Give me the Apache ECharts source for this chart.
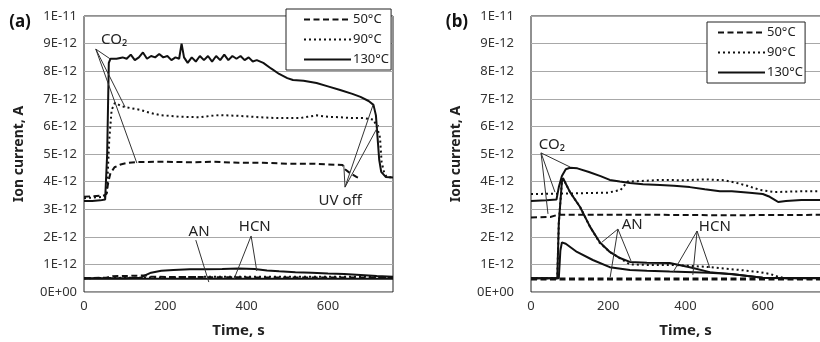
<!DOCTYPE html>
<html>
<head>
<meta charset="utf-8">
<script src="https://cdn.jsdelivr.net/npm/echarts@6/dist/echarts.min.js"></script>
<style>
  html, body { margin: 0; padding: 0; background: #fff; }
  #chart { width: 820px; height: 342px; }
</style>
</head>
<body>
<div id="chart"></div>
<script>
// values in units of 1E-12 A, time in s
var tempNames = ['50°C', '90°C', '130°C'];
var yTicks = [0, 1, 2, 3, 4, 5, 6, 7, 8, 9, 10];

// panel (a) CO2
var aCo2_50 = [[0,3.45],[50,3.5],[55,3.55],[60,4.0],[65,4.3],[75,4.52],[90,4.62],[104,4.67],[130,4.71],[200,4.72],[260,4.7],[320,4.72],[380,4.68],[440,4.68],[500,4.65],[560,4.65],[600,4.62],[636,4.6],[642,4.45],[655,4.3],[670,4.17],[680,4.1]];
var aCo2_90 = [[0,3.4],[50,3.45],[56,3.5],[62,5.5],[68,6.6],[76,6.85],[90,6.75],[101,6.7],[138,6.6],[160,6.5],[187,6.41],[236,6.35],[285,6.33],[310,6.38],[334,6.41],[383,6.38],[433,6.33],[474,6.3],[531,6.3],[550,6.35],[572,6.4],[600,6.35],[630,6.33],[660,6.3],[686,6.3],[712,6.25],[720,6.0],[728,5.6],[732,4.7],[738,4.35],[744,4.17],[760,4.15]];
var aCo2_130 = [[0,3.3],[20,3.3],[40,3.32],[52,3.35],[57,5.0],[61,8.3],[65,8.45],[80,8.45],[95,8.5],[105,8.45],[115,8.6],[125,8.4],[135,8.5],[145,8.68],[155,8.45],[165,8.55],[175,8.5],[185,8.62],[195,8.5],[205,8.55],[215,8.4],[225,8.5],[234,8.45],[240,9.0],[246,8.5],[255,8.3],[265,8.5],[275,8.35],[285,8.55],[295,8.4],[305,8.55],[315,8.35],[325,8.55],[335,8.4],[345,8.6],[355,8.4],[365,8.55],[375,8.45],[385,8.55],[395,8.4],[405,8.5],[415,8.35],[425,8.4],[441,8.3],[460,8.1],[480,7.9],[500,7.75],[514,7.68],[540,7.65],[572,7.57],[600,7.45],[630,7.32],[660,7.18],[680,7.07],[700,6.92],[712,6.78],[718,6.4],[722,5.6],[726,4.8],[731,4.35],[742,4.17],[760,4.15]];
// panel (a) AN / HCN
var aLow_50 = [[0,0.5],[55,0.52],[70,0.57],[150,0.6],[165,0.55],[400,0.53],[760,0.52]];
var aLow_90 = [[0,0.5],[150,0.52],[300,0.55],[500,0.55],[700,0.55],[760,0.52]];
var aHcn_130 = [[0,0.5],[100,0.5],[140,0.52],[150,0.6],[165,0.7],[190,0.77],[220,0.8],[260,0.82],[300,0.82],[340,0.83],[380,0.85],[420,0.83],[450,0.78],[480,0.75],[520,0.72],[560,0.7],[600,0.67],[640,0.65],[680,0.62],[720,0.58],[760,0.55]];
var aAn_130 = [[0,0.48],[760,0.48]];

// panel (b) CO2
var bCo2_50 = [[0,2.7],[50,2.72],[70,2.8],[300,2.8],[500,2.78],[800,2.8]];
var bCo2_90 = [[0,3.55],[100,3.57],[200,3.6],[232,3.7],[250,4.0],[280,4.02],[334,4.06],[400,4.05],[450,4.08],[500,4.05],[533,3.95],[560,3.85],[592,3.7],[631,3.62],[700,3.65],[800,3.65]];
var bCo2_130 = [[0,3.3],[40,3.32],[66,3.35],[72,3.8],[80,4.2],[90,4.45],[101,4.5],[120,4.48],[150,4.35],[180,4.2],[204,4.06],[230,4.0],[256,3.95],[290,3.9],[334,3.88],[370,3.85],[411,3.8],[450,3.72],[489,3.65],[520,3.65],[566,3.6],[600,3.55],[618,3.45],[630,3.35],[640,3.26],[660,3.3],[700,3.33],[800,3.33]];
// panel (b) AN / HCN
var bLow_50 = [[0,0.47],[800,0.47]];
var bLow_90 = [[0,0.5],[68,0.5],[72,2.5],[80,4.0],[83,4.12],[101,3.62],[127,3.08],[153,2.36],[178,1.78],[204,1.45],[230,1.23],[256,1.0],[300,0.98],[359,0.98],[411,0.95],[463,0.9],[500,0.85],[540,0.8],[592,0.72],[620,0.65],[640,0.55],[660,0.5],[800,0.5]];
var bHigh_130 = [[0,0.5],[68,0.5],[72,2.5],[80,4.0],[83,4.12],[101,3.62],[127,3.08],[153,2.36],[178,1.8],[204,1.45],[230,1.23],[256,1.09],[300,1.06],[359,1.05],[411,0.9],[463,0.72],[540,0.62],[600,0.52],[650,0.5],[800,0.5]];
var bLowPeak_130 = [[0,0.5],[72,0.5],[76,1.5],[80,1.8],[90,1.75],[119,1.45],[160,1.16],[204,0.9],[256,0.8],[300,0.77],[359,0.74],[420,0.72],[460,0.7],[520,0.65],[560,0.58],[600,0.52],[800,0.5]];

// callouts: [label, text position, apex, targets]
var calloutsA = [
  ['CO₂', [74, 9.13], [29, 8.8], [[64, 8.45], [101, 6.7], [130, 4.67]]],
  ['UV off', [630, 3.3], [642, 3.8], [[639, 4.6], [711, 6.78], [725, 6.05]]],
  ['AN', [283, 2.17], [275, 1.88], [[307, 0.36]]],
  ['HCN', [420, 2.36], [411, 2.03], [[369, 0.47], [425, 0.76]]]
];
var calloutsB = [
  ['CO₂', [54, 5.33], [26, 5.04], [[101, 4.53], [62, 3.62], [44, 2.83]]],
  ['AN', [262, 2.43], [225, 2.28], [[184, 1.81], [205, 0.54], [259, 1.12]]],
  ['HCN', [476, 2.36], [430, 2.21], [[368, 0.72], [419, 0.62], [463, 0.87]]]
];

var FONT = 'Noto Sans';
var styles = {
  '50°C': { color: '#111', width: 2, type: [6, 3.5] },
  '90°C': { color: '#111', width: 2, type: [2, 3] },
  '130°C': { color: '#111', width: 2, type: 'solid' }
};

function line(name, data, gi, extra) {
  var ls = Object.assign({}, styles[name], extra || {});
  return {
    name: name, type: 'line', data: data, xAxisIndex: gi, yAxisIndex: gi,
    symbol: 'none', color: '#111', lineStyle: ls, z: 3, animation: false
  };
}

var series = [
  line('50°C', aCo2_50, 0), line('90°C', aCo2_90, 0), line('130°C', aCo2_130, 0),
  line('50°C', aLow_50, 0), line('90°C', aLow_90, 0), line('130°C', aHcn_130, 0), line('130°C', aAn_130, 0),
  line('50°C', bCo2_50, 1), line('90°C', bCo2_90, 1), line('130°C', bCo2_130, 1),
  line('50°C', bLow_50, 1, { width: 3 }), line('90°C', bLow_90, 1), line('130°C', bHigh_130, 1), line('130°C', bLowPeak_130, 1)
];

function addCallouts(list, gi) {
  list.forEach(function (c) {
    c[3].forEach(function (p) {
      series.push({
        type: 'line', data: [c[2], p], xAxisIndex: gi, yAxisIndex: gi, symbol: 'none', silent: true,
        lineStyle: { color: '#333', width: 1 }, z: 4, animation: false
      });
    });
  });
}
addCallouts(calloutsA, 0);
addCallouts(calloutsB, 1);

function yFmt(v) {
  if (v === 0) return '0E+00';
  if (v === 10) return '1E-11';
  return v + 'E-12';
}

function xAxis(gi, max) {
  return {
    type: 'value', gridIndex: gi, min: 0, max: max, interval: 200,
    name: 'Time, s', nameLocation: 'middle', nameGap: 31,
    nameTextStyle: { fontFamily: FONT, fontWeight: 'bold', fontSize: 15, color: '#222' },
    axisLine: { show: false }, axisTick: { show: false }, splitLine: { show: false },
    axisLabel: {
      margin: 8, fontFamily: FONT, fontSize: 13, color: '#333',
      formatter: function (v) { return v % 200 === 0 ? String(v) : ''; }
    }
  };
}
function yAxis(gi, gap, labelMargin) {
  return {
    type: 'value', gridIndex: gi, min: 0, max: 10, interval: 1,
    name: 'Ion current, A', nameLocation: 'middle', nameGap: gap, nameRotate: 90,
    nameTextStyle: { fontFamily: FONT, fontWeight: 'bold', fontSize: 14, color: '#222' },
    axisLine: { show: false }, axisTick: { show: false },
    splitLine: { lineStyle: { color: '#a8a8a8', width: 1 } },
    axisLabel: { margin: labelMargin, fontFamily: FONT, fontSize: 13, color: '#333', formatter: yFmt }
  };
}

function legend(left, top, padL) {
  return {
    data: tempNames, orient: 'vertical', left: left, top: top,
    backgroundColor: '#fff', borderColor: '#222', borderWidth: 1,
    padding: [4, 2, 4, padL], itemWidth: 47, itemHeight: 12, itemGap: 7,
    selectedMode: false,
    itemStyle: { color: 'rgba(0,0,0,0)', borderWidth: 0 },
    textStyle: { fontFamily: FONT, fontSize: 13, color: '#222', padding: [0, 0, 0, -3] }
  };
}

var chart = echarts.init(document.getElementById('chart'));
chart.setOption({
  animation: false,
  grid: [
    { left: 84, top: 16, width: 309, bottom: 50, outerBoundsMode: 'none', containLabel: false, show: true, borderColor: '#222', borderWidth: 1, backgroundColor: '#fff' },
    { left: 531, top: 16, width: 309, bottom: 50, outerBoundsMode: 'none', containLabel: false, show: true, borderColor: '#222', borderWidth: 1, backgroundColor: '#fff' }
  ],
  xAxis: [xAxis(0, 760), xAxis(1, 800)],
  yAxis: [yAxis(0, 58, 7), yAxis(1, 68, 17)],
  legend: [legend(286, 9, 17), legend(707, 22, 10)],
  series: series
});

function texts(list, gi) {
  return list.map(function (c) {
    var p = chart.convertToPixel({ gridIndex: gi }, c[1]);
    return {
      type: 'text', x: p[0], y: p[1], z: 10,
      style: { text: c[0], fontFamily: FONT, fontSize: 15, fill: '#222', align: 'center', verticalAlign: 'middle' }
    };
  });
}
var g = texts(calloutsA, 0).concat(texts(calloutsB, 1));
g.push({ type: 'text', x: 20, y: 22, style: { text: '(a)', fontFamily: FONT, fontWeight: 'bold', fontSize: 17, fill: '#111', align: 'center', verticalAlign: 'middle' } });
g.push({ type: 'text', x: 457, y: 22, style: { text: '(b)', fontFamily: FONT, fontWeight: 'bold', fontSize: 17, fill: '#111', align: 'center', verticalAlign: 'middle' } });
chart.setOption({ graphic: g });
</script>
</body>
</html>
